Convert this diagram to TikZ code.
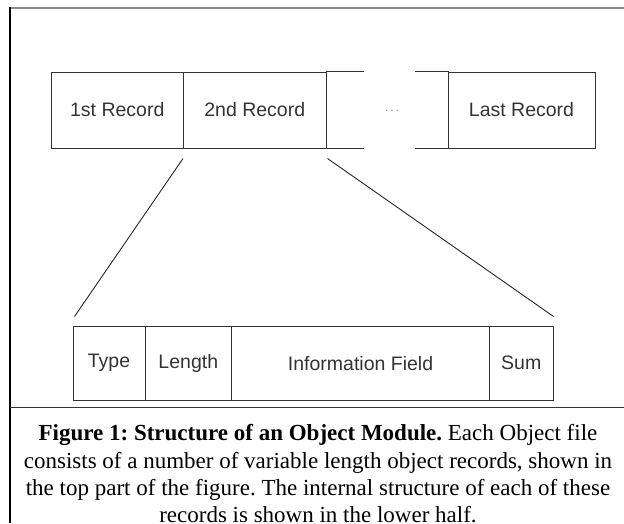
\documentclass[tikz,border=0pt]{standalone}
\usepackage{fontspec}
\setmainfont{Liberation Serif}
\setsansfont{Liberation Sans}
\usetikzlibrary{calc}
\tikzset{
  cell/.style={draw=black!80, line width=1pt, inner sep=0pt, anchor=center,
    font=\sffamily\fontsize{19.5}{22}\selectfont, text=black!80},
  link/.style={black!85, line width=0.9pt}
}
\begin{document}
\begin{tikzpicture}[x=1pt,y=-1pt]
   \useasboundingbox (0,0) rectangle (624,523);
   % frame
   \draw [black!45, line width=2pt] (10,8) -- (624,8);
   \draw [line width=1.2pt] (10,7) -- (10,523);
   \draw [black!80, line width=1pt] (10,407) -- (624,407);
   % object records
   \node [cell, minimum width=132.5, minimum height=76] (rec1) at (117.25,110) {1st Record};
   \node [cell, minimum width=142.5, minimum height=76] (rec2) at (254.75,110) {2nd Record};
   \node [cell, draw=none, minimum width=122, minimum height=76] (recgap) at (387,110) {};
   \node [cell, minimum width=147, minimum height=76] (recN) at (521.5,110) {Last Record};
   \node [text=black!50, font=\sffamily\fontsize{12}{14}\selectfont] (dots) at (392,111) {.\,.\,.};
   \draw [black!80, line width=1pt] (recgap.north west) -- ++(38.5,0);
   \draw [black!80, line width=1pt] (recgap.south west) -- ++(38.5,0);
   \draw [black!80, line width=1pt] (recgap.north east) -- ++(-34,0);
   \draw [black!80, line width=1pt] (recgap.south east) -- ++(-34,0);
   % one record
   \node [cell, minimum width=72, minimum height=74.5] (type) at (109,363.25) {Type};
   \node [cell, minimum width=86.6, minimum height=74.5] (len) at (188.3,363.25) {Length};
   \node [cell, minimum width=257.9, minimum height=74.5] (info) at (360.55,363.25) {Information Field};
   \node [cell, minimum width=63.5, minimum height=74.5] (sum) at (521.25,363.25) {Sum};
   \coordinate (l1) at ($(rec2.south west)+(0,10)$);
   \coordinate (l2) at ($(type.north west)+(2,-9)$);
   \coordinate (r1) at ($(rec2.south east)+(1,10)$);
   \coordinate (r2) at ($(sum.north east)+(0,-9)$);
   \draw [link] (l1) -- (l2);
   \draw [link] (r1) -- (r2);
   % caption
   \node [align=center, inner sep=0pt, font=\frenchspacing\fontsize{23}{27.3}\selectfont] (caption) at (318,474)
     {\textbf{Figure 1: Structure of an Object Module.} Each Object file\\
      consists of a number of variable length object records, shown in\\
      the top part of the figure. The internal structure of each of these\\
      records is shown in the lower half.};
\end{tikzpicture}
\end{document}
